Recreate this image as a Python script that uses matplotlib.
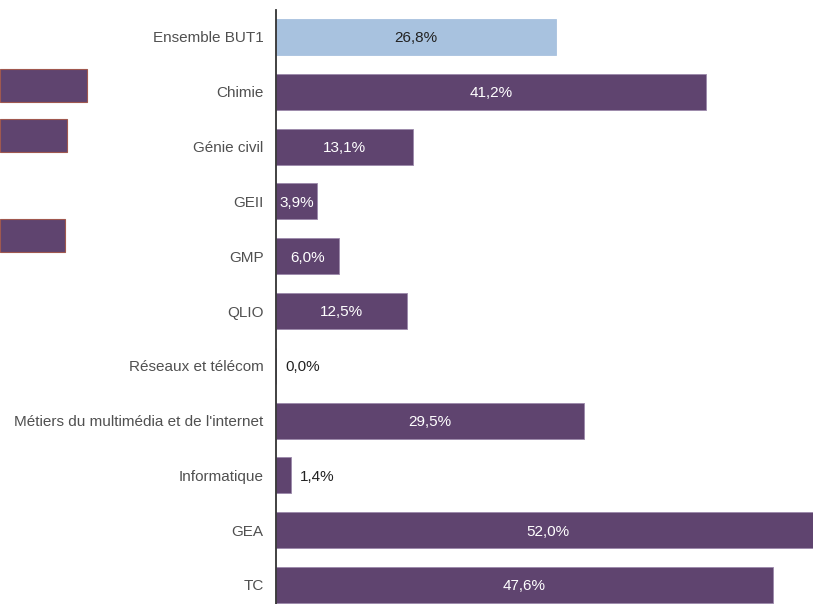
import matplotlib.pyplot as plt
import numpy as np

plt.rcParams["font.family"] = ["Liberation Sans", "DejaVu Sans"]

categories = ["Ensemble BUT1", "Chimie", "Génie civil", "GEII", "GMP", "QLIO",
              "Réseaux et télécom", "Métiers du multimédia et de l'internet",
              "Informatique", "GEA", "TC"]
values = [26.8, 41.2, 13.1, 3.9, 6.0, 12.5, 0.0, 29.5, 1.4, 52.0, 47.6]
value_labels = ["26,8%", "41,2%", "13,1%", "3,9%", "6,0%", "12,5%", "0,0%",
                "29,5%", "1,4%", "52,0%", "47,6%"]

# clipped bars of a neighbouring chart, visible at the left edge
ghost_values = [8.7, 6.7, 0.0, 6.5]

purple = "#5f446f"
light_blue = "#a8c2df"
text_grey = "#505050"

W, H = 813, 604
fig = plt.figure(figsize=(W / 100, H / 100), dpi=100)

# main axes: 0% at x=276px, 10.44 px per %, rows 54.8 px apart
ax = fig.add_axes([276 / W, (H - 612.4) / H, 543 / W, 602.8 / H])
y = np.arange(len(categories))
colors = [light_blue] + [purple] * (len(categories) - 1)
edges = [light_blue] + ["#9c88ab"] * (len(categories) - 1)
ax.barh(y, values, height=0.66, color=colors, edgecolor=edges, linewidth=0.6)
ax.set_xlim(0, 52)
ax.set_ylim(len(categories) - 0.5, -0.5)
ax.set_yticks(y)
ax.set_yticklabels(categories, fontsize=11, color=text_grey)
ax.tick_params(axis="y", length=0, pad=9)
ax.set_xticks([])
for side in ["top", "right", "bottom"]:
    ax.spines[side].set_visible(False)
ax.spines["left"].set_color("#333333")
ax.spines["left"].set_linewidth(1.3)

for i, (v, lab) in enumerate(zip(values, value_labels)):
    if v < 3:
        ax.text(v + 0.9, i, lab, ha="left", va="center_baseline", fontsize=11,
                color="#222222")
    else:
        col = "#222222" if i == 0 else "white"
        ax.text(v / 2, i, lab, ha="center", va="center_baseline", fontsize=11,
                color=col, clip_on=True)

# neighbouring chart fragment
gy = np.arange(len(ghost_values))
gvals = np.array(ghost_values)
gax = fig.add_axes([0, (H - 260.5) / H, 300 / W, 200 / H])
gax.barh(gy[gvals > 0], gvals[gvals > 0], height=0.66, color=purple,
         edgecolor="#a0584f", linewidth=0.8)
gax.set_xlim(0, 30)
gax.set_ylim(len(ghost_values) - 0.5, -0.5)
gax.axis("off")
gax.set_zorder(-1)

fig.savefig("out.png", dpi=100)
